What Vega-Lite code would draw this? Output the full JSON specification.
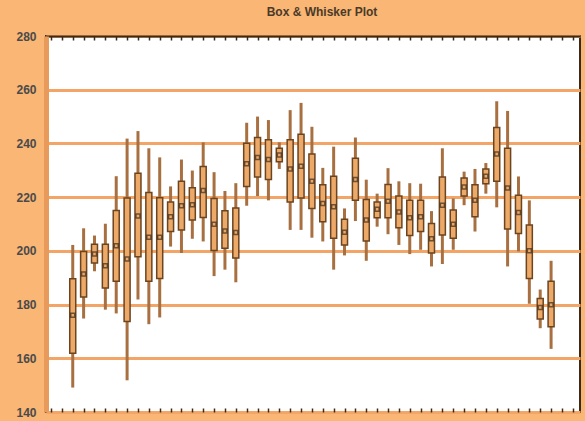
{
  "$schema": "https://vega.github.io/schema/vega-lite/v6.json",
  "width": 534,
  "height": 376,
  "autosize": {"type": "none"},
  "padding": {"left": 46, "top": 36, "right": 5, "bottom": 9},
  "background": "#F9B674",
  "title": {"text": "Box & Whisker Plot", "fontSize": 12, "font": "Liberation Sans", "fontWeight": "bold", "color": "#4a3a2a", "offset": 11, "dx": 9, "anchor": "middle"},
  "config": {
    "view": {"fill": "white", "stroke": "#3a2a1a", "strokeWidth": 2},
    "axis": {"labelFont": "Liberation Sans"}
  },
  "data": {"values": [
    {"i":1,"lo":149.1,"q1":161.9,"med":176,"q3":189.6,"hi":202.2},
    {"i":2,"lo":174.8,"q1":182.8,"med":191.4,"q3":199.8,"hi":208.4},
    {"i":3,"lo":192.4,"q1":195.5,"med":198.8,"q3":202.5,"hi":205.7},
    {"i":4,"lo":178.1,"q1":186.2,"med":194.5,"q3":202.5,"hi":210.1},
    {"i":5,"lo":176.7,"q1":188.7,"med":201.9,"q3":215,"hi":227.8},
    {"i":6,"lo":151.8,"q1":173.7,"med":197,"q3":219.7,"hi":241.8},
    {"i":7,"lo":181.9,"q1":197.8,"med":213,"q3":228.9,"hi":244.6},
    {"i":8,"lo":172.7,"q1":188.7,"med":205.1,"q3":221.7,"hi":238.2},
    {"i":9,"lo":175.2,"q1":189.7,"med":205.1,"q3":219.8,"hi":234.8},
    {"i":10,"lo":201.6,"q1":207.2,"med":212.7,"q3":218.2,"hi":224},
    {"i":11,"lo":199.2,"q1":207.8,"med":216.8,"q3":225.9,"hi":234},
    {"i":12,"lo":204.5,"q1":211.5,"med":217.2,"q3":223.5,"hi":229.9},
    {"i":13,"lo":203.5,"q1":212.4,"med":222.5,"q3":231.4,"hi":240.4},
    {"i":14,"lo":190.6,"q1":200.1,"med":209.9,"q3":219.5,"hi":229.3},
    {"i":15,"lo":193,"q1":201,"med":207.4,"q3":214.9,"hi":222.3},
    {"i":16,"lo":188.3,"q1":197.3,"med":206.8,"q3":216,"hi":225.2},
    {"i":17,"lo":216.8,"q1":224,"med":232.4,"q3":240.1,"hi":247.7},
    {"i":18,"lo":220.4,"q1":227.5,"med":234.8,"q3":242.2,"hi":250},
    {"i":19,"lo":218.8,"q1":226.6,"med":234,"q3":241.4,"hi":248.7},
    {"i":20,"lo":230.5,"q1":233.2,"med":235.7,"q3":238.2,"hi":240.4},
    {"i":21,"lo":207.8,"q1":218.2,"med":230.5,"q3":241.4,"hi":252.4},
    {"i":22,"lo":207.8,"q1":219.7,"med":231.5,"q3":243.4,"hi":255.1},
    {"i":23,"lo":204.9,"q1":215.8,"med":225.9,"q3":236.1,"hi":246.2},
    {"i":24,"lo":203.5,"q1":210.8,"med":217.6,"q3":224.6,"hi":230.9},
    {"i":25,"lo":193,"q1":204.7,"med":216.4,"q3":227.8,"hi":238.8},
    {"i":26,"lo":198.3,"q1":202.2,"med":206.9,"q3":211.8,"hi":215.8},
    {"i":27,"lo":211.1,"q1":218.8,"med":226.6,"q3":234.5,"hi":242.2},
    {"i":28,"lo":196.3,"q1":203.7,"med":211.5,"q3":219.1,"hi":226.5},
    {"i":29,"lo":209,"q1":212.3,"med":215.5,"q3":218.2,"hi":221.3},
    {"i":30,"lo":206.2,"q1":212.3,"med":218.5,"q3":224.7,"hi":230.8},
    {"i":31,"lo":202.2,"q1":208.6,"med":214.5,"q3":220.4,"hi":225.9},
    {"i":32,"lo":198.8,"q1":205.7,"med":212.3,"q3":218.8,"hi":225.2},
    {"i":33,"lo":200.4,"q1":207.2,"med":212.7,"q3":218.8,"hi":225},
    {"i":34,"lo":194.2,"q1":199.2,"med":204.5,"q3":210.2,"hi":214.8},
    {"i":35,"lo":195.1,"q1":205.9,"med":217,"q3":227.5,"hi":238.2},
    {"i":36,"lo":200.4,"q1":204.7,"med":209.9,"q3":215.2,"hi":219.5},
    {"i":37,"lo":217,"q1":220.4,"med":223.8,"q3":227.1,"hi":229.5},
    {"i":38,"lo":207.2,"q1":212.7,"med":218.8,"q3":224.6,"hi":230.5},
    {"i":39,"lo":221.3,"q1":225,"med":227.8,"q3":230.5,"hi":232.7},
    {"i":40,"lo":216.2,"q1":225.9,"med":236.1,"q3":245.9,"hi":255.7},
    {"i":41,"lo":194.2,"q1":208.1,"med":223.4,"q3":238.2,"hi":252.1},
    {"i":42,"lo":199.8,"q1":206.5,"med":214.3,"q3":220.7,"hi":227.7},
    {"i":43,"lo":180.3,"q1":189.7,"med":200,"q3":209.6,"hi":218.8},
    {"i":44,"lo":171.2,"q1":174.6,"med":178.9,"q3":182.3,"hi":185.6},
    {"i":45,"lo":163.5,"q1":171.7,"med":179.9,"q3":188.7,"hi":196.3}
  ]},
  "resolve": {"axis": {"x": "independent"}},
  "layer": [
    {
      "mark": {"type": "rule", "color": "#A87040", "strokeWidth": 3},
      "encoding": {
        "x": {"field": "i", "type": "quantitative", "scale": {"domain": [-1, 47.2], "nice": false, "zero": false},
              "axis": {"orient": "bottom", "labels": false, "title": null, "grid": false, "values": [-1,0,1,2,3,4,5,6,7,8,9,10,11,12,13,14,15,16,17,18,19,20,21,22,23,24,25,26,27,28,29,30,31,32,33,34,35,36,37,38,39,40,41,42,43,44,45,46,47], "tickSize": 4, "offset": -4, "domain": false, "tickColor": "#3a2a1a", "tickWidth": 1.5}},
        "y": {"field": "lo", "type": "quantitative", "scale": {"domain": [140, 280], "nice": false, "zero": false},
              "axis": {"title": null, "values": [140,160,180,200,220,240,260,280], "tickSize": 0, "labelPadding": 10, "labelFontSize": 12, "labelColor": "#4a4a4a", "labelFontWeight": "bold", "gridColor": "#F2A566", "gridWidth": 3, "gridOpacity": 1, "domainColor": "#E89A5A", "domainWidth": 5}},
        "y2": {"field": "hi"}
      }
    },
    {
      "mark": {"type": "bar", "size": 6, "fill": "#EDA968", "stroke": "#6B4420", "strokeWidth": 1.5},
      "encoding": {
        "x": {"field": "i", "type": "quantitative",
              "axis": {"orient": "top", "labels": false, "title": null, "grid": false, "values": [-1,0,1,2,3,4,5,6,7,8,9,10,11,12,13,14,15,16,17,18,19,20,21,22,23,24,25,26,27,28,29,30,31,32,33,34,35,36,37,38,39,40,41,42,43,44,45,46,47], "tickSize": -4, "tickColor": "#3a2a1a", "tickWidth": 1.5, "domainColor": "#3a2a1a", "domainWidth": 2}},
        "y": {"field": "q1", "type": "quantitative"},
        "y2": {"field": "q3"}
      }
    },
    {
      "mark": {"type": "point", "shape": "square", "size": 16, "filled": false, "stroke": "#3a2a1a", "strokeWidth": 1.5},
      "encoding": {
        "x": {"field": "i", "type": "quantitative", "axis": null},
        "y": {"field": "med", "type": "quantitative"}
      }
    }
  ]
}
